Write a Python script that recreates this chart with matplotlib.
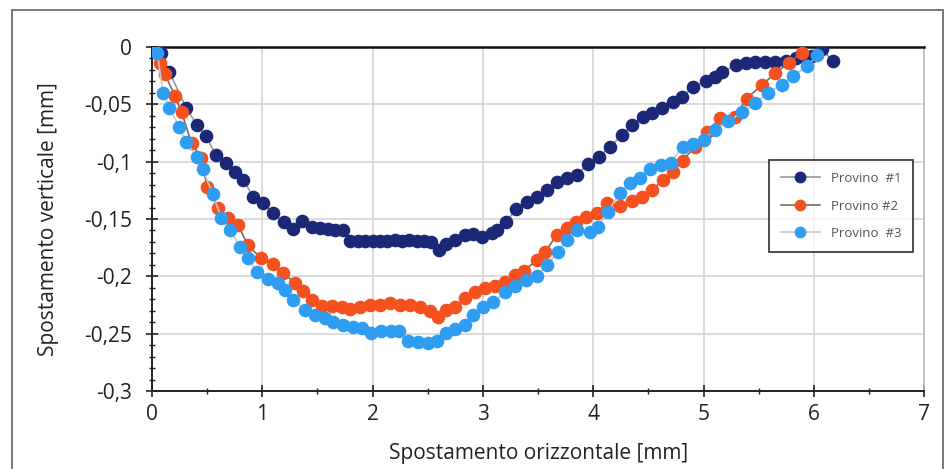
import matplotlib
matplotlib.use('Agg')
import matplotlib.pyplot as plt
from matplotlib.patches import Rectangle
from matplotlib.ticker import MultipleLocator, FuncFormatter

# Provino #1
x1 = [0.00, 0.08, 0.16, 0.31, 0.41, 0.49, 0.58, 0.67, 0.75, 0.83, 0.92, 1.01, 1.10, 1.20, 1.28,
      1.36, 1.45, 1.52, 1.60, 1.66, 1.73, 1.80, 1.87, 1.93, 2.00, 2.07, 2.13, 2.20, 2.27, 2.33,
      2.40, 2.47, 2.53, 2.60, 2.67, 2.75, 2.84, 2.91, 2.99, 3.08, 3.13, 3.21, 3.30, 3.40, 3.49,
      3.58, 3.67, 3.76, 3.85, 3.95, 4.05, 4.15, 4.26, 4.35, 4.45, 4.53, 4.62, 4.72, 4.80, 4.90,
      5.02, 5.10, 5.17, 5.29, 5.38, 5.47, 5.56, 5.65, 5.75, 5.84, 5.94, 5.98, 6.07, 6.17]
y1 = [0.000, -0.005, -0.022, -0.053, -0.068, -0.078, -0.094, -0.101, -0.109, -0.116, -0.131, -0.136,
      -0.145, -0.153, -0.159, -0.152, -0.157, -0.158, -0.159, -0.160, -0.160, -0.169, -0.169, -0.169,
      -0.169, -0.169, -0.169, -0.168, -0.169, -0.168, -0.169, -0.169, -0.170, -0.177, -0.172, -0.168,
      -0.164, -0.163, -0.166, -0.162, -0.160, -0.153, -0.141, -0.135, -0.131, -0.125, -0.118, -0.114,
      -0.112, -0.102, -0.096, -0.087, -0.077, -0.068, -0.061, -0.058, -0.053, -0.048, -0.044, -0.035,
      -0.030, -0.026, -0.022, -0.016, -0.014, -0.013, -0.013, -0.013, -0.012, -0.010, -0.009, -0.008,
      -0.002, -0.012]

# Provino #2
x2 = [0.00, 0.07, 0.12, 0.21, 0.27, 0.36, 0.45, 0.50, 0.60, 0.69, 0.78, 0.87, 0.99, 1.10, 1.19,
      1.30, 1.37, 1.45, 1.54, 1.63, 1.72, 1.80, 1.89, 1.98, 2.07, 2.16, 2.25, 2.34, 2.43, 2.52,
      2.59, 2.67, 2.75, 2.84, 2.93, 3.02, 3.11, 3.20, 3.29, 3.37, 3.49, 3.56, 3.67, 3.76, 3.84,
      3.93, 4.03, 4.12, 4.24, 4.35, 4.44, 4.53, 4.63, 4.72, 4.81, 4.92, 5.03, 5.15, 5.28, 5.39,
      5.53, 5.65, 5.77, 5.89]
y2 = [0.000, -0.014, -0.024, -0.043, -0.057, -0.084, -0.097, -0.122, -0.140, -0.149, -0.155, -0.173,
      -0.184, -0.189, -0.197, -0.206, -0.213, -0.221, -0.226, -0.226, -0.227, -0.228, -0.227, -0.225,
      -0.225, -0.223, -0.225, -0.225, -0.227, -0.230, -0.235, -0.229, -0.227, -0.219, -0.214, -0.210,
      -0.208, -0.205, -0.199, -0.195, -0.186, -0.179, -0.164, -0.158, -0.153, -0.148, -0.145, -0.136,
      -0.139, -0.134, -0.131, -0.125, -0.116, -0.109, -0.099, -0.087, -0.074, -0.062, -0.061, -0.045,
      -0.033, -0.023, -0.014, -0.005]

# Provino #3
x3 = [0.00, 0.05, 0.10, 0.16, 0.25, 0.31, 0.41, 0.46, 0.55, 0.63, 0.71, 0.80, 0.87, 0.95, 1.05,
      1.14, 1.21, 1.28, 1.39, 1.48, 1.57, 1.64, 1.73, 1.82, 1.90, 1.99, 2.08, 2.17, 2.24, 2.32,
      2.41, 2.50, 2.58, 2.67, 2.75, 2.84, 2.91, 3.00, 3.09, 3.20, 3.29, 3.39, 3.49, 3.58, 3.68,
      3.76, 3.85, 3.97, 4.04, 4.13, 4.24, 4.33, 4.42, 4.51, 4.61, 4.70, 4.81, 4.90, 5.00, 5.10,
      5.22, 5.35, 5.47, 5.58, 5.71, 5.81, 5.94, 6.03]
y3 = [0.000, -0.005, -0.040, -0.053, -0.070, -0.083, -0.096, -0.106, -0.128, -0.149, -0.160, -0.174,
      -0.184, -0.196, -0.202, -0.206, -0.212, -0.221, -0.229, -0.234, -0.236, -0.240, -0.242, -0.244,
      -0.245, -0.249, -0.248, -0.248, -0.248, -0.256, -0.257, -0.258, -0.256, -0.249, -0.246, -0.242,
      -0.234, -0.227, -0.222, -0.214, -0.208, -0.203, -0.200, -0.190, -0.179, -0.168, -0.160, -0.161,
      -0.157, -0.144, -0.127, -0.119, -0.114, -0.106, -0.103, -0.101, -0.087, -0.085, -0.081, -0.072,
      -0.065, -0.057, -0.049, -0.040, -0.033, -0.025, -0.017, -0.007]

labels = ['Provino  #1', 'Provino #2', 'Provino  #3']
colors = ['#1b2878', '#f4511e', '#2f9df2']
line_colors = ['#9a9a9a', '#7a6a66', '#c8c8c8']

plt.rcParams['font.family'] = ['Open Sans', 'DejaVu Sans']

fig = plt.figure(figsize=(9.49, 4.69), dpi=100)
ax = fig.add_axes([0.160, 0.166, 0.814, 0.734])

# outer chart frame
fig.patches.append(Rectangle((12 / 949, -0.02), 931 / 949, 1 - 10 / 469 + 0.02,
                             transform=fig.transFigure, fill=False, edgecolor='#6e6e6e', linewidth=1.3))

for xs, ys, lab, c, lc in zip([x1, x2, x3], [y1, y2, y3], labels, colors, line_colors):
    ax.plot(xs, ys, '-', color=lc, linewidth=1.2, marker='o', markersize=8.8,
            markerfacecolor=c, markeredgecolor=c, label=lab, zorder=3)

ax.set_xlim(0, 7)
ax.set_ylim(-0.3, 0)
ax.xaxis.set_major_locator(MultipleLocator(1))
ax.xaxis.set_minor_locator(MultipleLocator(0.5))
ax.yaxis.set_major_locator(MultipleLocator(0.05))
ax.yaxis.set_minor_locator(MultipleLocator(0.01))
ax.yaxis.set_major_formatter(FuncFormatter(lambda v, p: ('%g' % round(v, 3)).replace('.', ',') if abs(v) > 1e-9 else '0'))

ax.grid(True, which='major', color='#d4d4d4', linewidth=1.2)
ax.set_axisbelow(True)

ax.tick_params(axis='both', which='major', direction='inout', length=9, width=1.2, colors='#222222', labelsize=15)
ax.tick_params(axis='both', which='minor', direction='inout', length=5, width=1.0, colors='#222222')
ax.tick_params(axis='x', pad=5)
ax.tick_params(axis='y', pad=10)

ax.spines['top'].set_color('#111111')
ax.spines['top'].set_linewidth(1.8)
ax.spines['left'].set_color('#222222')
ax.spines['left'].set_linewidth(1.4)
ax.spines['bottom'].set_color('#222222')
ax.spines['bottom'].set_linewidth(1.4)
ax.spines['right'].set_color('#bdbdbd')
ax.spines['right'].set_linewidth(1.2)

ax.set_xlabel('Spostamento orizzontale [mm]', fontsize=15, color='#222222', labelpad=13)
ax.set_ylabel('Spostamento verticale [mm]', fontsize=15, color='#222222', labelpad=18)

leg = ax.legend(loc='upper left', bbox_to_anchor=(0.79, 0.69), fontsize=9.5, frameon=True,
                fancybox=False, edgecolor='#111111', labelspacing=1.1, handlelength=3.0,
                borderpad=0.9, markerscale=0.85, labelcolor='#555555')
leg.get_frame().set_linewidth(1.3)

fig.savefig('out.png', dpi=100)
